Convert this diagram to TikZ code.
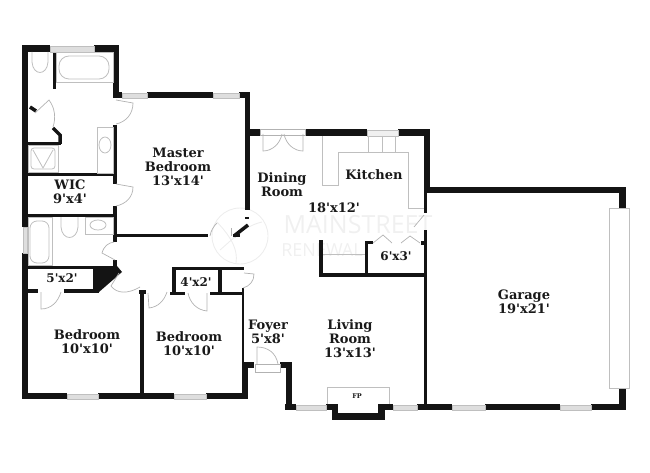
\documentclass[tikz,border=0pt]{standalone}
\usepackage{fontspec}
\setmainfont[Ligatures=TeXOff]{DejaVu Serif}
\setsansfont{Open Sans}
\usepackage{tikz}
\usepackage{xcolor}
\usetikzlibrary{positioning, calc}

\begin{document}
\begin{tikzpicture}[
  x=1pt, y=-1pt,
  every node/.style={font=\fontsize{13}{14}\selectfont\bfseries, align=center, inner sep=0pt, text=black!90},
  wall/.style={fill=black!92},
  partition/.style={draw=black!92, line width=3.5pt},
  window/.style={draw=black!25, fill=black!13, line width=0.8pt},
  fixture/.style={draw=black!25, line width=0.8pt},
  swing/.style={draw=black!30, line width=0.7pt},
  logoline/.style={draw=black!7, line width=0.9pt}
]
\useasboundingbox (0,0) rectangle (650,473);

% Watermark
\draw[logoline] (240,236) circle (28);
\draw[logoline] (217,222) .. controls (232,238) and (238,250) .. (236,263);
\draw[logoline] (220,250) .. controls (232,240) and (244,226) .. (262,222);
\node[font=\fontsize{25}{25}\selectfont\sffamily, text=black!6] (markone) at (358,225) {MAINSTREET};
\node[font=\fontsize{18}{18}\selectfont\sffamily, text=black!6] (marktwo) at (322,250) {RENEWAL};

% Outer walls
\fill[wall] (22,45) rectangle (50,52);
\fill[wall] (94,45) rectangle (119,52);
\fill[wall] (22,45) rectangle (28,227);
\fill[wall] (22,253) rectangle (28,399);
\fill[wall] (113,45) rectangle (119,98);
\fill[wall] (113,92) rectangle (122,98);
\fill[wall] (147,92) rectangle (213,98);
\fill[wall] (239,92) rectangle (250,98);
\fill[wall] (245,92) rectangle (250,210);
\fill[wall] (245,129) rectangle (260,136);
\fill[wall] (305,129) rectangle (367,136);
\fill[wall] (398,129) rectangle (430,136);
\fill[wall] (424,129) rectangle (430,193);
\fill[wall] (424,187) rectangle (626,193);
\fill[wall] (619,187) rectangle (626,208);
\fill[wall] (619,388) rectangle (626,410);
\fill[wall] (591,404) rectangle (626,410);
\fill[wall] (485,404) rectangle (560,410);
\fill[wall] (417,404) rectangle (452,410);
\fill[wall] (378,404) rectangle (393,410);
\fill[wall] (326,404) rectangle (338,410);
\fill[wall] (332,404) rectangle (338,420);
\fill[wall] (378,404) rectangle (385,420);
\fill[wall] (332,413) rectangle (385,420);
\fill[wall] (285,404) rectangle (296,410);
\fill[wall] (286,362) rectangle (292,410);
\fill[wall] (280,362) rectangle (292,368);
\fill[wall] (242,362) rectangle (254,368);
\fill[wall] (242,362) rectangle (248,399);
\fill[wall] (22,393) rectangle (67,399);
\fill[wall] (98,393) rectangle (174,399);
\fill[wall] (206,393) rectangle (248,399);

% Inner walls
\fill[wall] (53,52) rectangle (56,89);
\fill[wall] (28,142) rectangle (61,145);
\fill[wall] (28,173) rectangle (116,176);
\fill[wall] (28,214) rectangle (116,217);
\fill[wall] (113,125) rectangle (117,184);
\fill[wall] (113,206) rectangle (117,242);
\fill[wall] (116,234) rectangle (208,237);
\fill[wall] (233,234) rectangle (240,237);
\fill[wall] (28,266) rectangle (117,269);
\fill[wall] (113,260) rectangle (117,269);
\fill[wall] (93,266) -- (117,266) -- (122,272) -- (99,292) -- (93,292) -- cycle;
\fill[wall] (28,289) rectangle (38,293);
\fill[wall] (64,289) rectangle (99,293);
\fill[wall] (140,290) rectangle (144,393);
\fill[wall] (139,290) rectangle (146,294);
\fill[wall] (170,292) rectangle (185,295);
\fill[wall] (210,292) rectangle (244,295);
\fill[wall] (172,267) rectangle (176,295);
\fill[wall] (172,267) rectangle (244,270);
\fill[wall] (218,267) rectangle (222,295);
\fill[wall] (242,288) rectangle (244,362);
\fill[wall] (319,240) rectangle (323,277);
\fill[wall] (319,273) rectangle (427,277);
\fill[wall] (365,241) rectangle (368,277);
\fill[wall] (365,241) rectangle (373,244);
\fill[wall] (421,241) rectangle (424,245);
\fill[wall] (424,230) rectangle (427,404);
\fill[wall] (424,190) rectangle (427,213);
\draw[partition] (30,107) -- (36,111);
\draw[partition, line join=miter] (53,128) -- (60,135) -- (60,144);
\draw[partition] (234,236) -- (248,225);
\fill[wall] (245,217) rectangle (249,219);

% Windows
\draw[window] (50,46) rectangle (94,52);
\draw[window] (122,93) rectangle (147,98);
\draw[window] (213,93) rectangle (239,98);
\draw[window] (23,227) rectangle (27,253);
\draw[window] (67,394) rectangle (98,399);
\draw[window] (174,394) rectangle (206,399);
\draw[window] (296,405) rectangle (326,410);
\draw[window] (393,405) rectangle (417,410);
\draw[window] (452,405) rectangle (485,410);
\draw[window] (560,405) rectangle (591,410);
\draw[window, fill=black!6] (367,130) rectangle (398,136);

% Master bath
\draw[fixture] (56,52) rectangle (113,82);
\draw[fixture, rounded corners=10pt] (59,56) rectangle (109,79);
\draw[fixture] (32,52) -- (32,62) .. controls (33,76) and (47,76) .. (48,62) -- (48,52);
\draw[fixture] (28,145) rectangle (58,172);
\draw[fixture, rounded corners=3pt] (31,148) rectangle (55,169);
\draw[fixture] (33,150) -- (43,168) -- (53,150);
\draw[fixture] (97,127) rectangle (113,173);
\draw[fixture] (105,145) ellipse (6 and 8);

% Hall bath
\draw[fixture] (28,217) rectangle (52,265);
\draw[fixture, rounded corners=7pt] (30,221) rectangle (49,263);
\draw[fixture] (61,217) -- (61,227) .. controls (62,241) and (77,241) .. (78,227) -- (78,217);
\draw[fixture] (85,217) rectangle (113,234);
\draw[fixture] (98,225) ellipse (8 and 5);

% Kitchen
\draw[fixture] (322,136) -- (322,185) -- (338,185) -- (338,152) -- (408,152) -- (408,208) -- (424,208);
\draw[fixture] (368,136) rectangle (395,152);
\draw[fixture] (382,136) -- (382,152);
\draw[fixture] (323,254) -- (365,254);

% Living room hearth and garage door
\draw[fixture] (327,404) -- (327,387) -- (389,387) -- (389,404);
\draw[fixture] (609,208) rectangle (629,388);

% Doors
\draw[swing] (260,129) rectangle (305,135);
\draw[swing] (263,134) -- (263,151) .. controls (272,151) and (280,144) .. (282,134);
\draw[swing] (303,134) -- (303,151) .. controls (294,151) and (286,144) .. (284,134);
\draw[swing] (116,100) -- (133,103) .. controls (133,114) and (126,122) .. (116,124);
\draw[swing] (116,184) -- (133,187) .. controls (133,197) and (126,204) .. (116,206);
\draw[swing] (35,113) -- (49,100) .. controls (55,108) and (56,118) .. (53,127);
\draw[swing] (115,260) -- (102,253) .. controls (104,246) and (108,243) .. (114,242);
\draw[swing] (41,292) -- (41,309) .. controls (51,309) and (58,302) .. (61,292);
\draw[swing] (119,273) -- (111,286) .. controls (117,294) and (128,294) .. (140,287);
\draw[swing] (148,293) -- (149,308) .. controls (158,307) and (164,301) .. (167,292);
\draw[swing] (207,293) -- (207,311) .. controls (197,310) and (190,303) .. (188,293);
\draw[swing] (244,273) -- (254,274) .. controls (254,281) and (250,286) .. (243,288);
\draw[swing] (255,364) rectangle (280,372);
\draw[swing] (257,364) -- (257,347) .. controls (268,347) and (276,353) .. (278,364);
\draw[swing] (373,243) -- (383,235) -- (392,243);
\draw[swing] (401,243) -- (410,236) -- (420,243);
\draw[swing] (210,236) .. controls (211,230) and (214,226) .. (217,223);
\draw[swing] (231,236) -- (231,228);
\draw[swing] (424,215) -- (414,227);

% Rooms
\node (master) at (178,167) {Master\\Bedroom\\13'x14'};
\node (wic) at (70,192) {WIC\\9'x4'};
\node (bedleft) at (87,342) {Bedroom\\10'x10'};
\node (bedright) at (189,344) {Bedroom\\10'x10'};
\node[font=\fontsize{12}{12}\selectfont\bfseries] (closetleft) at (62,278) {5'x2'};
\node[font=\fontsize{12}{12}\selectfont\bfseries] (closetright) at (196,282) {4'x2'};
\node (foyer) at (268,332) {Foyer\\5'x8'};
\node (dining) at (282,185) {Dining\\Room};
\node (kitchen) at (374,175) {Kitchen};
\node (diningsize) at (334,208) {18'x12'};
\node[font=\fontsize{12}{12}\selectfont\bfseries] (pantry) at (396,256) {6'x3'};
\node (living) at (350,339) {Living\\Room\\13'x13'};
\node[font=\fontsize{6.5}{7}\selectfont\bfseries] (hearth) at (357,396) {FP};
\node (garage) at (524,302) {Garage\\19'x21'};

\end{tikzpicture}
\end{document}
